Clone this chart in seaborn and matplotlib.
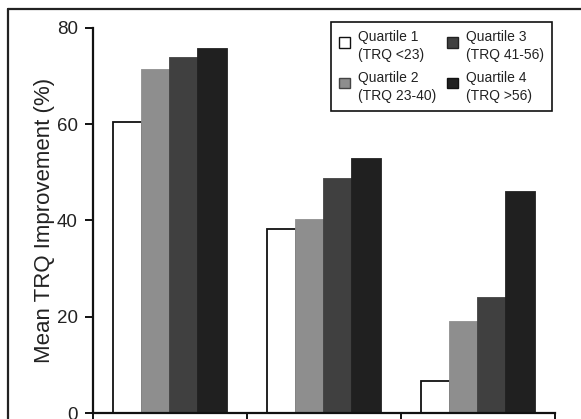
import matplotlib
matplotlib.use("Agg")
import matplotlib.pyplot as plt
from matplotlib.lines import Line2D
from matplotlib.patches import Rectangle
from matplotlib.legend_handler import HandlerPatch
import seaborn as sns
import pandas as pd

groups = ["Group 1", "Group 2", "Group 3"]
quartiles = ["Quartile 1\n(TRQ <23)", "Quartile 2\n(TRQ 23-40)",
             "Quartile 3\n(TRQ 41-56)", "Quartile 4\n(TRQ >56)"]
q1 = [60.4, 38.3, 6.7]
q2 = [71.2, 40.2, 19.0]
q3 = [73.7, 48.7, 24.0]
q4 = [75.6, 52.7, 45.9]
y_ticks = [0, 20, 40, 60, 80]

colors = ["#ffffff", "#8e8e8e", "#404040", "#202020"]
edges = ["#111111", "#8e8e8e", "#404040", "#202020"]

rows = []
for qi, vals in zip(quartiles, [q1, q2, q3, q4]):
    for g, v in zip(groups, vals):
        rows.append({"group": g, "quartile": qi, "value": v})
df = pd.DataFrame(rows)

sns.set_theme(style="white")
plt.rcParams["font.family"] = ["Liberation Sans", "DejaVu Sans"]

W, H = 581, 419
fig = plt.figure(figsize=(W / 100, H / 100), dpi=100)
fig.patch.set_facecolor("white")
ax = fig.add_axes([93 / W, (H - 413) / H, (555 - 93) / W, (413 - 28) / H])

sns.barplot(data=df, x="group", y="value", hue="quartile", order=groups,
            hue_order=quartiles, palette=colors, width=0.735, ax=ax,
            saturation=1, errorbar=None, legend=True)

for container, ec in zip(ax.containers, edges):
    for bar in container:
        bar.set_edgecolor(ec)
        bar.set_linewidth(1.3)

ax.set_xlim(-0.5, 2.5)
ax.set_ylim(0, 80)
ax.set_yticks(y_ticks)
ax.set_yticklabels([str(t) for t in y_ticks], fontsize=13.5, color="#222222")
ax.set_xticks([-0.5, 0.5, 1.5, 2.5])
ax.set_xticklabels([])
ax.set_xlabel("")
ax.set_ylabel("Mean TRQ Improvement (%)", fontsize=16, color="#222222", labelpad=1)
for s in ["top", "right"]:
    ax.spines[s].set_visible(False)
for s in ["left", "bottom"]:
    ax.spines[s].set_linewidth(1.6)
    ax.spines[s].set_color("#111111")
ax.tick_params(axis="both", direction="out", length=6, width=1.4, color="#111111",
               left=True, bottom=True, pad=5)


def top_square(legend, orig_handle, xdescent, ydescent, width, height, fontsize):
    sq = 0.78 * fontsize
    return Rectangle((-xdescent, -ydescent + height - sq - 0.1 * fontsize), sq, sq)


handles, labels = ax.get_legend_handles_labels()
leg = ax.legend(handles=handles, labels=labels, ncol=2, loc="upper right",
                bbox_to_anchor=(0.9935, 1.0156), frameon=True, fancybox=False,
                edgecolor="#111111", fontsize=10, handlelength=0.9, handleheight=2.3,
                columnspacing=0.75, handletextpad=0.45, labelspacing=0.65,
                borderpad=0.6, borderaxespad=0, framealpha=1,
                handler_map={Rectangle: HandlerPatch(patch_func=top_square)})
leg.get_frame().set_linewidth(1.2)
for t in leg.get_texts():
    t.set_color("#222222")
    t.set_linespacing(1.35)
for h, ec in zip(leg.legend_handles, ["#111111", "#444444", "#222222", "#111111"]):
    h.set_edgecolor(ec)
    h.set_linewidth(1.0)

fig.add_artist(Line2D([8 / W, 8 / W], [0, 1 - 9 / H], transform=fig.transFigure,
                      color="#222222", linewidth=1.6))
fig.add_artist(Line2D([8 / W, 1], [1 - 9 / H, 1 - 9 / H], transform=fig.transFigure,
                      color="#222222", linewidth=1.6))

fig.savefig("out.png", dpi=100)
